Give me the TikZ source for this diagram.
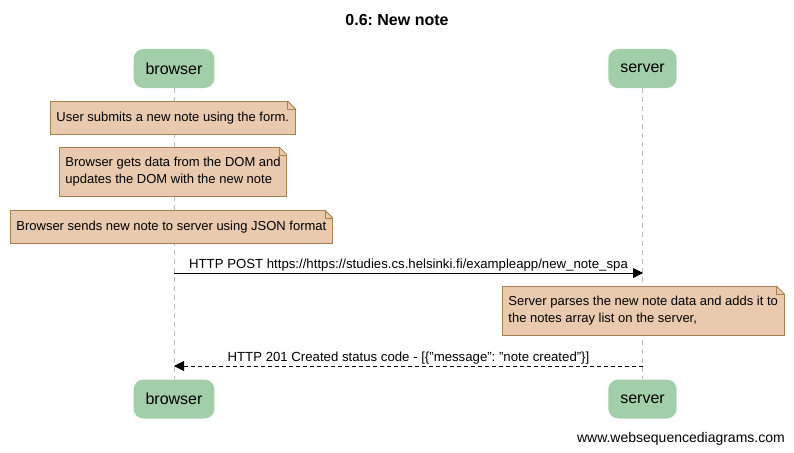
\documentclass[tikz,border=0pt]{standalone}
\usepackage{fontspec}
\setmainfont{Liberation Sans}
\usetikzlibrary{arrows.meta}
\frenchspacing

\definecolor{teilnehmer}{RGB}{162,207,170}
\definecolor{notizfill}{RGB}{233,202,175}
\definecolor{notizrand}{RGB}{166,128,80}
\definecolor{linienfarbe}{RGB}{185,185,185}

\tikzset{
  akteur/.style={fill=teilnehmer, rounded corners=10pt, minimum height=39pt,
    inner xsep=12pt, font=\fontsize{16}{19}\selectfont},
  notiz/.style={fill=notizfill, draw=notizrand, line width=0.8pt, anchor=north west,
    align=left, inner xsep=6pt, font=\fontsize{13}{17}\selectfont},
  nachricht/.style={-{Triangle[length=10pt,width=10pt]}, line width=0.8pt},
  antwort/.style={nachricht, dash pattern=on 4pt off 3pt},
  lebenslinie/.style={draw=linienfarbe, line width=0.8pt, dash pattern=on 5pt off 4pt},
  beschriftung/.style={midway, anchor=base, yshift=5pt, inner sep=0pt,
    font=\fontsize{13.2}{16}\selectfont},
}

% Eselsohr oben rechts an einer Notiz
\newcommand{\ecke}[1]{%
  \fill[white] ([xshift=-8pt,yshift=0.6pt]#1.north east) -- ([xshift=0.6pt,yshift=0.6pt]#1.north east)
    -- ([xshift=0.6pt,yshift=-8pt]#1.north east) -- cycle;
  \draw[notizrand, line width=0.8pt] ([xshift=-8pt]#1.north east) -- ([yshift=-8pt]#1.north east);
  \draw[notizrand, line width=0.5pt] ([xshift=-8pt]#1.north east) |- ([yshift=-8pt]#1.north east);
}

\begin{document}
\begin{tikzpicture}[x=1pt, y=-1pt]
  \useasboundingbox (0,0) rectangle (794,452);

  % Titel
  \node[font=\bfseries\fontsize{16}{19}\selectfont] (titel) at (397,20) {0.6: New note};

  % Teilnehmer oben und unten
  \node[akteur] (browser-oben) at (174,68.5) {browser};
  \node[akteur] (server-oben) at (642.5,68.5) {server};
  \node[akteur] (browser-unten) at (174,399) {browser};
  \node[akteur] (server-unten) at (642.5,399) {server};

  % Lebenslinien
  \draw[lebenslinie] (browser-oben) -- (browser-unten);
  \draw[lebenslinie] (server-oben) -- (server-unten);

  % Notizen
  \node[notiz, minimum height=33pt] (notiz1) at (50,101) {User submits a new note using the form.};
  \ecke{notiz1}
  \node[notiz, minimum height=49pt] (notiz2) at (59,147) {Browser gets data from the DOM and\\updates the DOM with the new note};
  \ecke{notiz2}
  \node[notiz, minimum height=33pt] (notiz3) at (10,210) {Browser sends new note to server using JSON format};
  \ecke{notiz3}

  % Anfrage an den Server
  \coordinate (post-start) at (174,273);
  \coordinate (post-ende) at (643,273);
  \draw[nachricht] (post-start) -- (post-ende)
    node[beschriftung] {HTTP POST https://https://studies.cs.helsinki.fi/exampleapp/new\_note\_spa};

  \node[notiz, minimum height=49pt] (notiz4) at (502,286) {Server parses the new note data and adds it to\\the notes array list on the server,};
  \ecke{notiz4}

  % Antwort
  \coordinate (antwort-start) at (643,366);
  \coordinate (antwort-ende) at (174,366);
  \draw[antwort] (antwort-start) -- (antwort-ende)
    node[beschriftung] {HTTP 201 Created status code - [\{"message": "note created"\}]};

  % Fusszeile
  \node[anchor=base east, inner sep=0pt, font=\fontsize{14}{17}\selectfont] (fuss) at (785,442) {www.websequencediagrams.com};
\end{tikzpicture}
\end{document}
